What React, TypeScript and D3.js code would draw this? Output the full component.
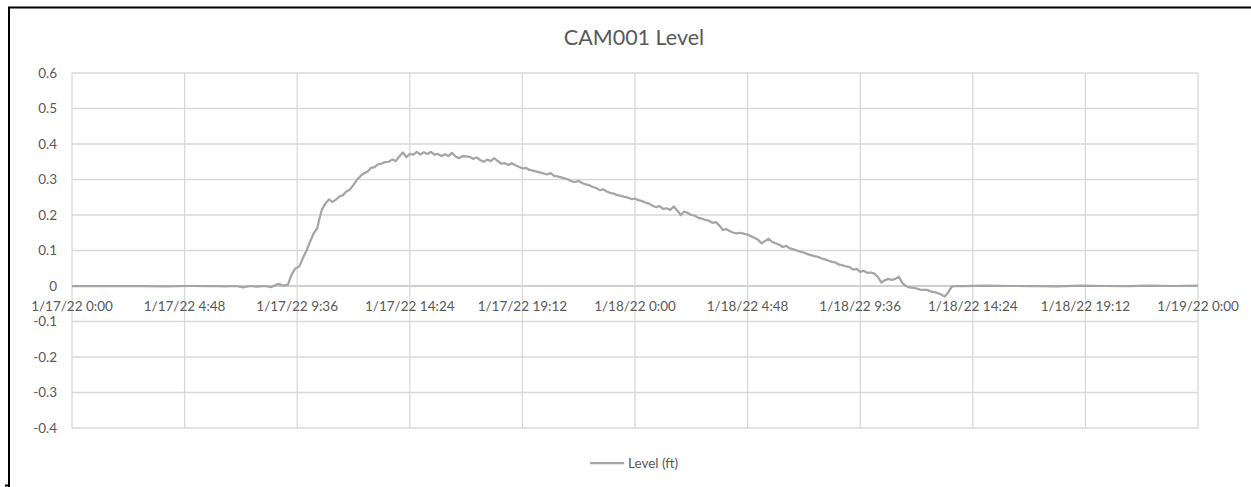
import React, { useEffect, useRef } from 'react';
import * as d3 from 'd3';

const TITLE = 'CAM001 Level';
const SERIES_NAME = 'Level (ft)';
const START = '1/17/22 0:00';

// hours since 1/17/22 0:00
const hours = [
  0, 1, 2, 3, 4, 5, 6, 6.5, 7, 7.3, 7.6, 7.9, 8.2, 8.5, 8.8, 9.0, 9.2, 9.35, 9.5, 9.7, 9.85,
  10.0, 10.15, 10.3, 10.45, 10.55, 10.65, 10.8, 10.95, 11.1, 11.25, 11.4, 11.55, 11.7, 11.85,
  12.0, 12.15, 12.3, 12.45, 12.6, 12.75, 12.9, 13.05, 13.2, 13.35, 13.5, 13.65, 13.8, 13.95,
  14.1, 14.25, 14.4, 14.55, 14.7, 14.85, 15.0, 15.15, 15.3, 15.45, 15.6, 15.75, 15.9, 16.05,
  16.2, 16.35, 16.5, 16.65, 16.8, 16.95, 17.1, 17.25, 17.4, 17.55, 17.7, 17.85, 18.0, 18.15,
  18.3, 18.45, 18.6, 18.75, 18.9, 19.05, 19.2, 19.35, 19.5, 19.65, 19.8, 19.95, 20.1, 20.25,
  20.4, 20.55, 20.7, 20.85, 21.0, 21.15, 21.3, 21.45, 21.6, 21.75, 21.9, 22.05, 22.2, 22.35,
  22.5, 22.65, 22.8, 22.95, 23.1, 23.25, 23.4, 23.55, 23.7, 23.85, 24.0, 24.15, 24.3, 24.45,
  24.6, 24.75, 24.9, 25.05, 25.2, 25.35, 25.5, 25.65, 25.8, 25.95, 26.1, 26.25, 26.4, 26.55,
  26.7, 26.85, 27.0, 27.15, 27.3, 27.45, 27.6, 27.75, 27.9, 28.05, 28.2, 28.35, 28.5, 28.65,
  28.8, 28.95, 29.1, 29.25, 29.4, 29.55, 29.7, 29.85, 30.0, 30.15, 30.3, 30.45, 30.6, 30.75,
  30.9, 31.05, 31.2, 31.35, 31.5, 31.65, 31.8, 31.95, 32.1, 32.25, 32.4, 32.55, 32.7, 32.85,
  33.0, 33.15, 33.3, 33.45, 33.6, 33.75, 33.9, 34.05, 34.2, 34.35, 34.5, 34.65, 34.8, 34.95,
  35.1, 35.25, 35.4, 35.55, 35.7, 35.85, 36.0, 36.15, 36.3, 36.45, 36.6, 36.75, 36.9, 37.05,
  37.2, 37.35, 37.5, 37.7, 38, 39, 40, 41, 42, 43, 44, 45, 46, 47, 48,
];

const level = [
  0, 0, 0, 0, -0.001, 0, 0, -0.001, 0, -0.004, 0, -0.002, 0, -0.003, 0.006, 0.001, 0.003, 0.03,
  0.048, 0.056, 0.08,
  0.1, 0.125, 0.148, 0.162, 0.19, 0.215, 0.232, 0.244, 0.237, 0.243, 0.252, 0.256, 0.266, 0.272,
  0.285, 0.299, 0.31, 0.318, 0.322, 0.333, 0.335, 0.343, 0.345, 0.349, 0.35, 0.356, 0.352, 0.365,
  0.376, 0.363, 0.372, 0.37, 0.378, 0.37, 0.377, 0.372, 0.378, 0.37, 0.372, 0.366, 0.371, 0.366,
  0.375, 0.365, 0.36, 0.366, 0.365, 0.364, 0.358, 0.362, 0.355, 0.35, 0.356, 0.352, 0.36, 0.352,
  0.345, 0.346, 0.341, 0.346, 0.34, 0.336, 0.331, 0.333, 0.327, 0.325, 0.322, 0.32, 0.317, 0.314,
  0.318, 0.31, 0.309, 0.306, 0.303, 0.3, 0.295, 0.293, 0.296, 0.29, 0.286, 0.284, 0.279, 0.276,
  0.27, 0.272, 0.266, 0.262, 0.26, 0.256, 0.254, 0.251, 0.249, 0.245, 0.246, 0.242, 0.239, 0.235,
  0.232, 0.226, 0.222, 0.225, 0.217, 0.219, 0.214, 0.224, 0.213, 0.2, 0.21, 0.206, 0.2, 0.198,
  0.192, 0.19, 0.186, 0.184, 0.178, 0.18, 0.17, 0.158, 0.16, 0.154, 0.15, 0.148, 0.15, 0.147,
  0.145, 0.14, 0.135, 0.13, 0.12, 0.127, 0.133, 0.124, 0.12, 0.116, 0.11, 0.113, 0.106, 0.103,
  0.1, 0.097, 0.094, 0.09, 0.087, 0.084, 0.082, 0.078, 0.075, 0.071, 0.068, 0.066, 0.06, 0.058,
  0.055, 0.053, 0.046, 0.048, 0.04, 0.043, 0.037, 0.038, 0.035, 0.026, 0.01, 0.016, 0.02, 0.017,
  0.02, 0.026, 0.008, 0, -0.004, -0.005, -0.007, -0.01, -0.011, -0.011, -0.015, -0.017, -0.02, -0.024,
  -0.03, -0.018, -0.002, 0, 0, 0.001, 0, 0, -0.001, 0.001, 0, 0, 0.001, 0, 0.001,
];

const xTickLabels = [
  '1/17/22 0:00', '1/17/22 4:48', '1/17/22 9:36', '1/17/22 14:24', '1/17/22 19:12',
  '1/18/22 0:00', '1/18/22 4:48', '1/18/22 9:36', '1/18/22 14:24', '1/18/22 19:12',
  '1/19/22 0:00',
];

const yTicks = [0.6, 0.5, 0.4, 0.3, 0.2, 0.1, 0, -0.1, -0.2, -0.3, -0.4];

const FONT = 'Lato, "Open Sans", sans-serif';
const TEXT = '#595959';
const GRID = '#d9d9d9';
const LINE = '#a5a5a5';

const LevelChart = () => {
  const svgRef = useRef<SVGSVGElement>(null);

  useEffect(() => {
    drawChart(svgRef);
  }, [svgRef]);

  return (
    <svg
      ref={svgRef}
      width={1251}
      height={487}
      style={{ position: 'absolute', left: 0, top: 0, background: '#fff' }}
    ></svg>
  );
};

function drawChart(svgRef: React.RefObject<SVGSVGElement>) {
  const svg = d3.select(svgRef.current);
  svg.selectAll('*').remove();

  const plot = { left: 72, right: 1198, top: 73, bottom: 428 };
  const parse = d3.timeParse('%m/%d/%y %H:%M');
  const start = parse(START) as Date;

  const data = hours.map((h, i) => ({
    date: new Date(start.getTime() + h * 3600 * 1000),
    value: level[i],
  }));
  const xTicks = xTickLabels.map((l) => parse(l) as Date);

  const x = d3
    .scaleTime()
    .domain(d3.extent(xTicks) as [Date, Date])
    .range([plot.left, plot.right]);
  const y = d3
    .scaleLinear()
    .domain([d3.min(yTicks) as number, d3.max(yTicks) as number])
    .range([plot.bottom, plot.top]);

  // frame from the screenshot
  svg
    .append('path')
    .attr('d', 'M8,7.5H1251M9,7V487M5,485.5H9')
    .attr('fill', 'none')
    .attr('stroke', '#000')
    .attr('stroke-width', 2);

  // gridlines
  svg
    .append('g')
    .selectAll('line')
    .data(yTicks)
    .join('line')
    .attr('x1', plot.left)
    .attr('x2', plot.right)
    .attr('y1', (d) => y(d))
    .attr('y2', (d) => y(d))
    .attr('stroke', (d) => (d === 0 ? '#bfbfbf' : GRID))
    .attr('stroke-width', 1.3);

  svg
    .append('g')
    .selectAll('line')
    .data(xTicks)
    .join('line')
    .attr('x1', (d) => x(d))
    .attr('x2', (d) => x(d))
    .attr('y1', plot.top)
    .attr('y2', plot.bottom)
    .attr('stroke', GRID)
    .attr('stroke-width', 1.3);

  // y labels
  svg
    .append('g')
    .selectAll('text')
    .data(yTicks)
    .join('text')
    .attr('x', 57)
    .attr('y', (d) => y(d))
    .attr('dy', '0.35em')
    .attr('text-anchor', 'end')
    .attr('font-family', FONT)
    .attr('font-size', 13.5)
    .attr('fill', TEXT)
    .text((d) => String(d));

  // x labels sit just below the zero line
  svg
    .append('g')
    .selectAll('text')
    .data(xTicks)
    .join('text')
    .attr('x', (d) => x(d))
    .attr('y', y(0) + 25)
    .attr('text-anchor', 'middle')
    .attr('font-family', FONT)
    .attr('font-size', 13.5)
    .attr('fill', TEXT)
    .text((d, i) => xTickLabels[i]);

  svg
    .append('path')
    .datum(data)
    .attr('fill', 'none')
    .attr('stroke', LINE)
    .attr('stroke-width', 2.25)
    .attr('stroke-linejoin', 'round')
    .attr(
      'd',
      d3
        .line<{ date: Date; value: number }>()
        .x((d) => x(d.date))
        .y((d) => y(d.value))
    );

  // title
  svg
    .append('text')
    .attr('x', 634)
    .attr('y', 45)
    .attr('text-anchor', 'middle')
    .attr('font-family', FONT)
    .attr('font-size', 21.5)
    .attr('fill', TEXT)
    .text(TITLE);

  // legend
  const legend = svg.append('g').attr('transform', 'translate(590,463)');
  legend
    .append('line')
    .attr('x1', 0)
    .attr('x2', 34)
    .attr('stroke', LINE)
    .attr('stroke-width', 2.25);
  legend
    .append('text')
    .attr('x', 38)
    .attr('dy', '0.35em')
    .attr('font-family', FONT)
    .attr('font-size', 13.5)
    .attr('fill', TEXT)
    .text(SERIES_NAME);
}

export default function App() {
  return <LevelChart />;
}
